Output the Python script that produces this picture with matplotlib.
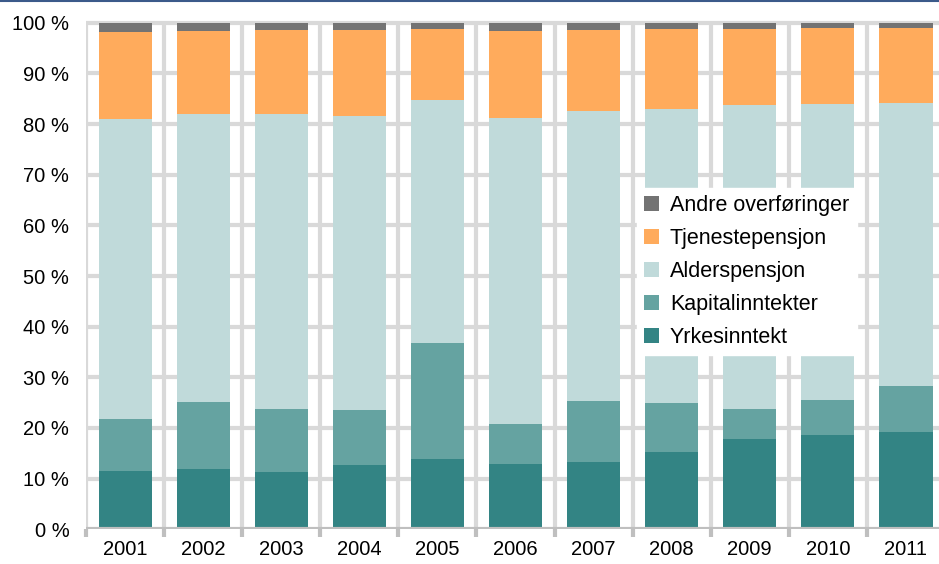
import matplotlib
matplotlib.use("Agg")
from matplotlib import pyplot as plt
from matplotlib.lines import Line2D
import numpy as np

plt.rcParams['font.family'] = ['Liberation Sans', 'DejaVu Sans']

YEARS = ['2001', '2002', '2003', '2004', '2005', '2006',
         '2007', '2008', '2009', '2010', '2011']

# cumulative tops (percent)
yrkes_top = [11.5, 11.9, 11.4, 12.6, 13.8, 12.8, 13.2, 15.2, 17.9, 18.7, 19.3]
kapital_top = [21.8, 25.2, 23.8, 23.5, 36.7, 20.7, 25.4, 24.9, 23.8, 25.6, 28.3]
alder_top = [81.0, 82.0, 81.9, 81.6, 84.8, 81.2, 82.6, 83.0, 83.8, 84.0, 84.2]
tjeneste_top = [98.2, 98.4, 98.5, 98.6, 98.8, 98.4, 98.6, 98.7, 98.8, 98.9, 99.0]

yrkes = np.array(yrkes_top)
kapital = np.array(kapital_top) - np.array(yrkes_top)
alder = np.array(alder_top) - np.array(kapital_top)
tjeneste = np.array(tjeneste_top) - np.array(alder_top)
andre = 100 - np.array(tjeneste_top)

SERIES = [('Yrkesinntekt', yrkes, '#338484'),
          ('Kapitalinntekter', kapital, '#65a3a1'),
          ('Alderspensjon', alder, '#c0dada'),
          ('Tjenestepensjon', tjeneste, '#ffab5c'),
          ('Andre overføringer', andre, '#737373')]

fig = plt.figure(figsize=(9.39, 5.64), dpi=100)
ax = fig.add_axes([0.0916, 0.0615, 0.9148, 0.9117])

x = np.arange(len(YEARS))
grid_c = '#d9d9d9'

# grid: horizontal lines and vertical lines between categories
ax.hlines(np.arange(10, 101, 10), -0.5, len(YEARS) - 0.5, color=grid_c, lw=3, zorder=0)
ax.vlines(np.arange(len(YEARS) + 1) - 0.5, 0, 100, color=grid_c, lw=3, zorder=0)

bottom = np.zeros(len(YEARS))
handles = []
for name, vals, col in SERIES:
    b = ax.bar(x, vals, 0.68, bottom=bottom, color=col, label=name, zorder=2)
    handles.append(b)
    bottom = bottom + vals

ax.set_xlim(-0.5, len(YEARS) - 0.5)
ax.set_ylim(0, 101.5)

for s in ax.spines.values():
    s.set_visible(False)
ax.axhline(0, color='#bfbfbf', lw=3, zorder=3)
ax.set_yticks(np.arange(0, 101, 10))
ax.set_yticklabels(['%d %%' % v for v in range(0, 101, 10)], fontsize=14.5)
ax.tick_params(axis='y', length=0, pad=12)
ax.set_xticks(np.arange(len(YEARS) + 1) - 0.5, minor=True)
ax.set_xticks(x)
ax.set_xticklabels(YEARS, fontsize=14.5)
ax.tick_params(axis='x', which='major', length=0, pad=8)
ax.tick_params(axis='x', which='minor', length=6, width=3, color='#bfbfbf')

leg = ax.legend(handles[::-1], [s[0] for s in SERIES][::-1],
                loc='upper left', bbox_to_anchor=(0.641, 0.664),
                prop={'size': 15.5}, frameon=True, fancybox=False,
                handlelength=0.7, handleheight=0.7, handletextpad=0.5,
                labelspacing=0.55, borderpad=0.35, borderaxespad=0)
leg.get_frame().set_facecolor('white')
leg.get_frame().set_edgecolor('white')
leg.get_frame().set_alpha(1)
leg.set_zorder(5)

# thin blue rule along the top edge
fig.add_artist(Line2D([0, 1], [0.998, 0.998], color='#3b5a8a', lw=1.5))

fig.savefig('out.png', dpi=100)
